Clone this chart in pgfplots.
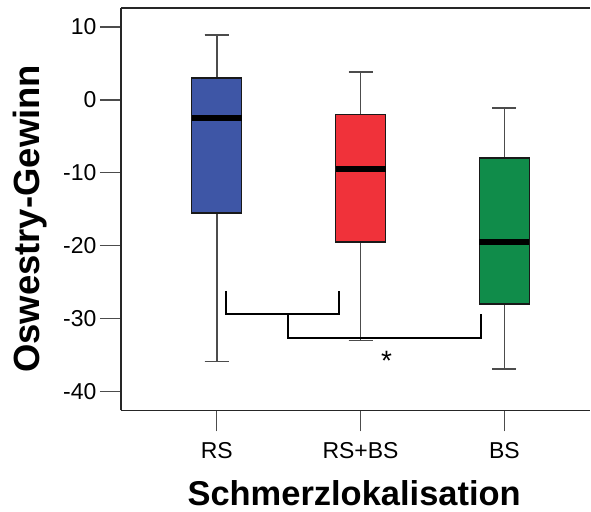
\documentclass[border=0pt]{standalone}
\usepackage{fontspec}
\setmainfont{Liberation Sans}
\usepackage{pgfplots}
\usepgfplotslibrary{statistics}
\pgfplotsset{compat=1.18}
\definecolor{cblue}{RGB}{62,86,166}
\definecolor{cred}{RGB}{240,50,58}
\definecolor{cgreen}{RGB}{16,140,74}
\begin{document}
\begin{tikzpicture}
\begin{axis}[
  scale only axis, width=470bp, height=403bp,
  xmin=0.3333, xmax=3.597, ymin=-42.6, ymax=12.6,
  axis x line*=box, axis y line*=left,
  xtick pos=left, ytick pos=left,
  tick align=outside,
  major tick length=21bp,
  tick style={black!70, line width=1.4bp},
  axis line style={black!85, line width=1.5bp},
  xtick={1,2,3}, xticklabels={RS,RS+BS,BS},
  ytick={-40,-30,-20,-10,0,10},
  yticklabels={-40,-30,-20,-10,0,10},
  ticklabel style={font=\fontsize{23bp}{27bp}\selectfont},
  xticklabel style={yshift=-7bp},
  xlabel={Schmerzlokalisation},
  ylabel={Oswestry-Gewinn},
  label style={font=\fontsize{34.5bp}{40bp}\selectfont\bfseries, inner sep=0pt},
  xlabel style={at={(axis description cs:0.497,-0.236)}, anchor=base},
  ylabel style={font=\fontsize{36.5bp}{40bp}\selectfont\bfseries, at={(axis description cs:-0.193,0.476)}, anchor=center},
  clip=false,
  boxplot/draw direction=y,
  boxplot/every box/.style={draw=black!90, line width=1.4bp},
  boxplot/every whisker/.style={draw=black!70, line width=1.6bp},
  boxplot/every median/.style={draw=black, line width=5.5bp},
]
\addplot[boxplot prepared={median=-2.5, upper quartile=3, lower quartile=-15.5,
  upper whisker=8.9, lower whisker=-35.9, draw position=1,
  box extend=0.347, whisker extend=0.167}, fill=cblue, draw=black] coordinates {};
\addplot[boxplot prepared={median=-9.5, upper quartile=-2, lower quartile=-19.5,
  upper whisker=3.8, lower whisker=-33, draw position=2,
  box extend=0.347, whisker extend=0.167}, fill=cred, draw=black] coordinates {};
\addplot[boxplot prepared={median=-19.5, upper quartile=-8, lower quartile=-28,
  upper whisker=-1.1, lower whisker=-36.9, draw position=3,
  box extend=0.347, whisker extend=0.167}, fill=cgreen, draw=black] coordinates {};
\addplot[black, line width=2bp, mark=none] coordinates {(1.0625,-26.2) (1.0625,-29.3) (1.847,-29.3) (1.847,-26.2)};
\addplot[black, line width=2bp, mark=none] coordinates {(1.493,-29.3) (1.493,-32.7) (2.84,-32.7) (2.84,-29.3)};
\node[font=\fontsize{28bp}{28bp}\selectfont, inner sep=0pt] at (axis cs:2.18,-35.8) {*};
\end{axis}
\path (current axis.south west) ++(-121bp,-101bp);
\path (current axis.north west) ++(0,8bp);
\end{tikzpicture}
\end{document}
